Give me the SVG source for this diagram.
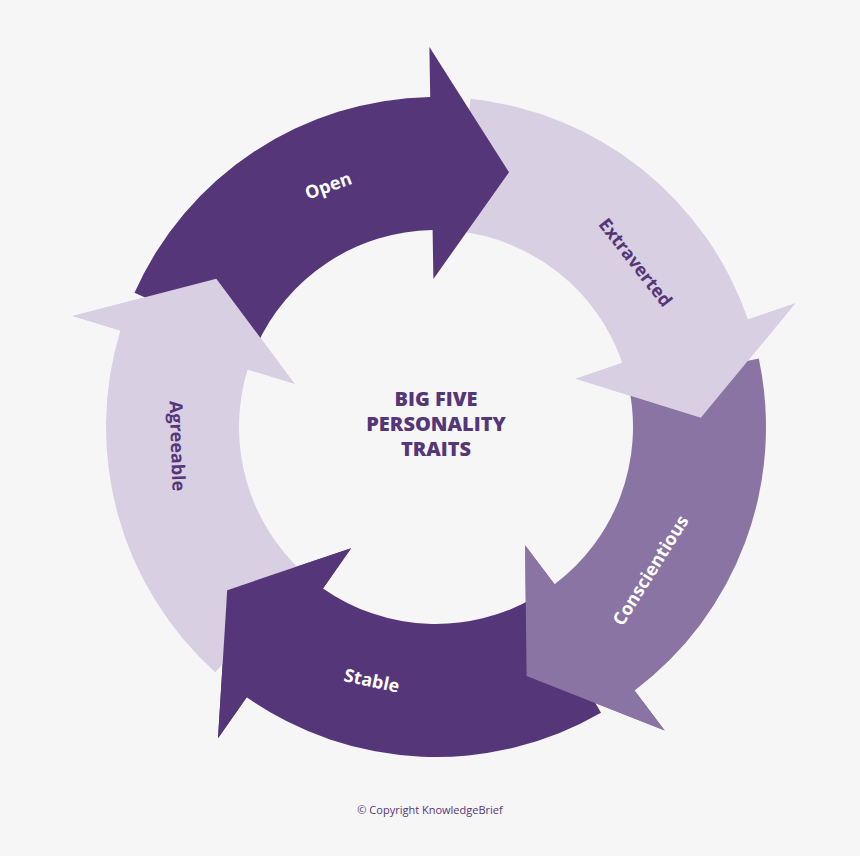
<svg xmlns="http://www.w3.org/2000/svg" width="860" height="856" viewBox="0 0 860 856">
<style>
.dark{fill:#553678}.light{fill:#d8cfe2}.mid{fill:#8a74a4}
.lbl{font-family:"Open Sans","Liberation Sans",sans-serif;font-weight:700;font-size:18px;text-anchor:middle;dominant-baseline:central}
.w{fill:#ffffff}.p{fill:#553678}
.title{font-family:"Open Sans","Liberation Sans",sans-serif;font-weight:800;font-size:20px;fill:#553678;text-anchor:middle}
</style>
<rect width="860" height="856" fill="#f6f6f6"/>
<g id="connectors"></g>
<g id="extraverted">
<path class="light" d="M470.5,98.8 A330,330 0 0 1 748.0,319.6 L795.3,303.3 L700.8,417.8 L575.9,378.8 L622.3,362.9 A197,197 0 0 0 456.6,231.1 Z"/>
</g>
<g id="conscientious">
<path class="mid" d="M758.8,358.4 A330,330 0 0 1 634.6,690.5 L664.7,730.5 L526.6,676.0 L525.1,545.2 L554.6,584.3 A197,197 0 0 0 628.7,386.0 Z"/>
</g>
<g id="stable">
<path class="dark" d="M601,712.8 A330,330 0 0 1 246.7,697.3 L218.0,738.3 L227.2,590.2 L351.1,548.2 L323.0,588.4 A197,197 0 0 0 534.5,597.6 Z"/>
</g>
<g id="agreeable">
<path class="light" d="M215.2,672.2 A330,330 0 0 1 120.4,330.5 L72.6,315.9 L216.3,278.8 L294.5,383.7 L247.6,369.4 A197,197 0 0 0 304.2,573.4 Z"/>
</g>
<g id="open">
<path class="dark" d="M134.5,292.8 A330,330 0 0 1 430.2,97.0 L429.4,47.1 L509.0,172.3 L433.4,279.0 L432.6,230.0 A197,197 0 0 0 256.0,346.9 Z"/>
</g>
<g id="heads">
<path class="light" d="M795.3,303.3 L700.8,417.8 L575.9,378.8 Z"/>
<path class="mid" d="M664.7,730.5 L526.6,676.0 L525.1,545.2 Z"/>
<path class="dark" d="M218.0,738.3 L227.2,590.2 L351.1,548.2 Z"/>
<path class="light" d="M72.6,315.9 L216.3,278.8 L294.5,383.7 Z"/>
</g>
<g id="labels">
<text class="lbl w" transform="translate(328,185) rotate(-20)">Open</text>
<text class="lbl p" transform="translate(636,262) rotate(52)">Extraverted</text>
<text class="lbl w" transform="translate(650,570) rotate(-58)">Conscientious</text>
<text class="lbl w" transform="translate(372,680) rotate(12)">Stable</text>
<text class="lbl p" transform="translate(178,446) rotate(88)">Agreeable</text>
</g>
<g id="title">
<text class="title" x="436" y="406">BIG FIVE</text>
<text class="title" x="436" y="431">PERSONALITY</text>
<text class="title" x="436" y="456">TRAITS</text>
</g>
<text x="430" y="814" font-family="'Open Sans','Liberation Sans',sans-serif" font-size="11" fill="#553678" text-anchor="middle">© Copyright KnowledgeBrief</text>
</svg>
